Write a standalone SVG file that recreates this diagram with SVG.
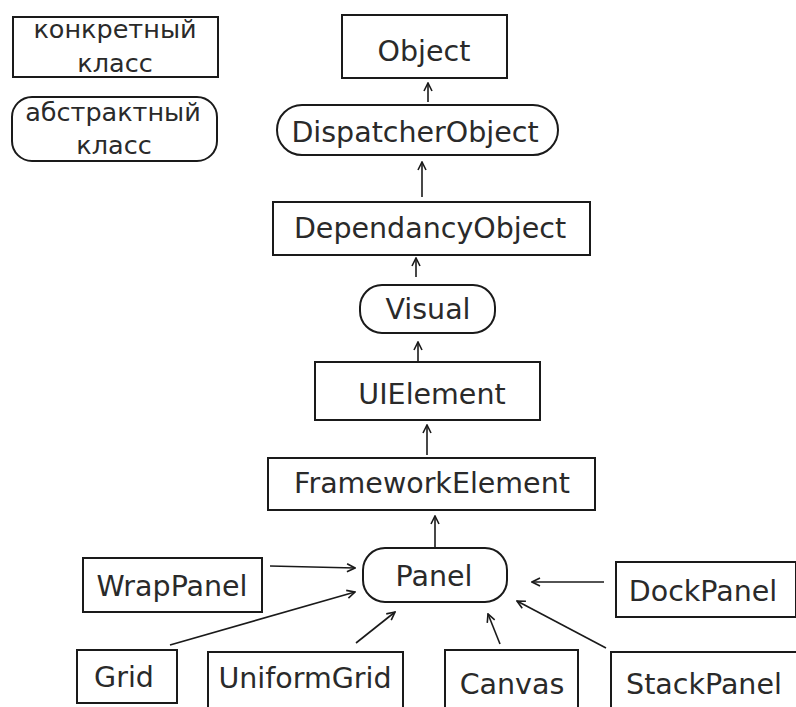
<svg xmlns="http://www.w3.org/2000/svg" width="796" height="707" viewBox="0 0 796 707">
<defs>
<style>
.box{fill:#fff;stroke:#1a1a1a;stroke-width:2}
.t{font-family:"DejaVu Sans",Verdana,sans-serif;font-size:28.5px;fill:#2a2a2a;text-anchor:middle}
.s{font-size:25.5px}
.c{stroke:#1a1a1a;stroke-width:1.6;fill:none;marker-end:url(#ah)}
</style>
<marker id="ah" viewBox="0 0 10 10" refX="9" refY="5" markerWidth="10" markerHeight="10" markerUnits="userSpaceOnUse" orient="auto">
<path d="M1,1 L9,5 L1,9" fill="none" stroke="#1a1a1a" stroke-width="1.6"/>
</marker>
</defs>
<rect width="796" height="707" fill="#fff"/>
<g id="legend-concrete"><rect class="box" x="13" y="17" width="205" height="60"/><text class="t s" x="115" y="38">конкретный</text><text class="t s" x="115" y="72">класс</text></g>
<g id="legend-abstract"><rect class="box" x="12" y="97" width="205" height="64" rx="20"/><text class="t s" x="113" y="121">абстрактный</text><text class="t s" x="114" y="154">класс</text></g>
<g id="Object"><rect class="box" x="342" y="15" width="165" height="63"/><text class="t" x="424" y="61">Object</text></g>
<g id="DispatcherObject"><rect class="box" x="277" y="105" width="281" height="50" rx="25"/><text class="t" x="415" y="142">DispatcherObject</text></g>
<g id="DependancyObject"><rect class="box" x="273" y="202" width="317" height="53"/><text class="t" x="430" y="238">DependancyObject</text></g>
<g id="Visual"><rect class="box" x="360" y="285" width="135" height="48" rx="22"/><text class="t" x="428" y="319">Visual</text></g>
<g id="UIElement"><rect class="box" x="315" y="362" width="225" height="58"/><text class="t" x="432" y="404">UIElement</text></g>
<g id="FrameworkElement"><rect class="box" x="268" y="458" width="327" height="52"/><text class="t" x="432" y="493">FrameworkElement</text></g>
<g id="Panel"><rect class="box" x="363" y="548" width="144" height="54" rx="22"/><text class="t" x="434" y="586">Panel</text></g>
<g id="WrapPanel"><rect class="box" x="83" y="558" width="179" height="54"/><text class="t" x="172" y="596">WrapPanel</text></g>
<g id="DockPanel"><rect class="box" x="616" y="562" width="180" height="55"/><text class="t" x="703" y="601">DockPanel</text></g>
<g id="Grid"><rect class="box" x="77" y="650" width="100" height="53"/><text class="t" x="124" y="687">Grid</text></g>
<g id="UniformGrid"><rect class="box" x="208" y="652" width="195" height="60"/><text class="t" x="305" y="688">UniformGrid</text></g>
<g id="Canvas"><rect class="box" x="445" y="650" width="133" height="60"/><text class="t" x="512" y="694">Canvas</text></g>
<g id="StackPanel"><rect class="box" x="611" y="652" width="190" height="60"/><text class="t" x="704" y="694">StackPanel</text></g>
<g id="connectors">
<line class="c" x1="428" y1="102" x2="428" y2="83"/>
<line class="c" x1="422" y1="197" x2="422" y2="162"/>
<line class="c" x1="416" y1="277" x2="416" y2="258"/>
<line class="c" x1="418" y1="361" x2="418" y2="342"/>
<line class="c" x1="427" y1="455" x2="427" y2="425"/>
<line class="c" x1="435" y1="547" x2="435" y2="516"/>
<line class="c" x1="270" y1="566" x2="355" y2="568"/>
<line class="c" x1="170" y1="645" x2="355" y2="592"/>
<line class="c" x1="356" y1="643" x2="395" y2="612"/>
<line class="c" x1="500" y1="644" x2="488" y2="614"/>
<line class="c" x1="606" y1="648" x2="517" y2="601"/>
<line class="c" x1="604" y1="582" x2="532" y2="582"/>
</g>
</svg>
